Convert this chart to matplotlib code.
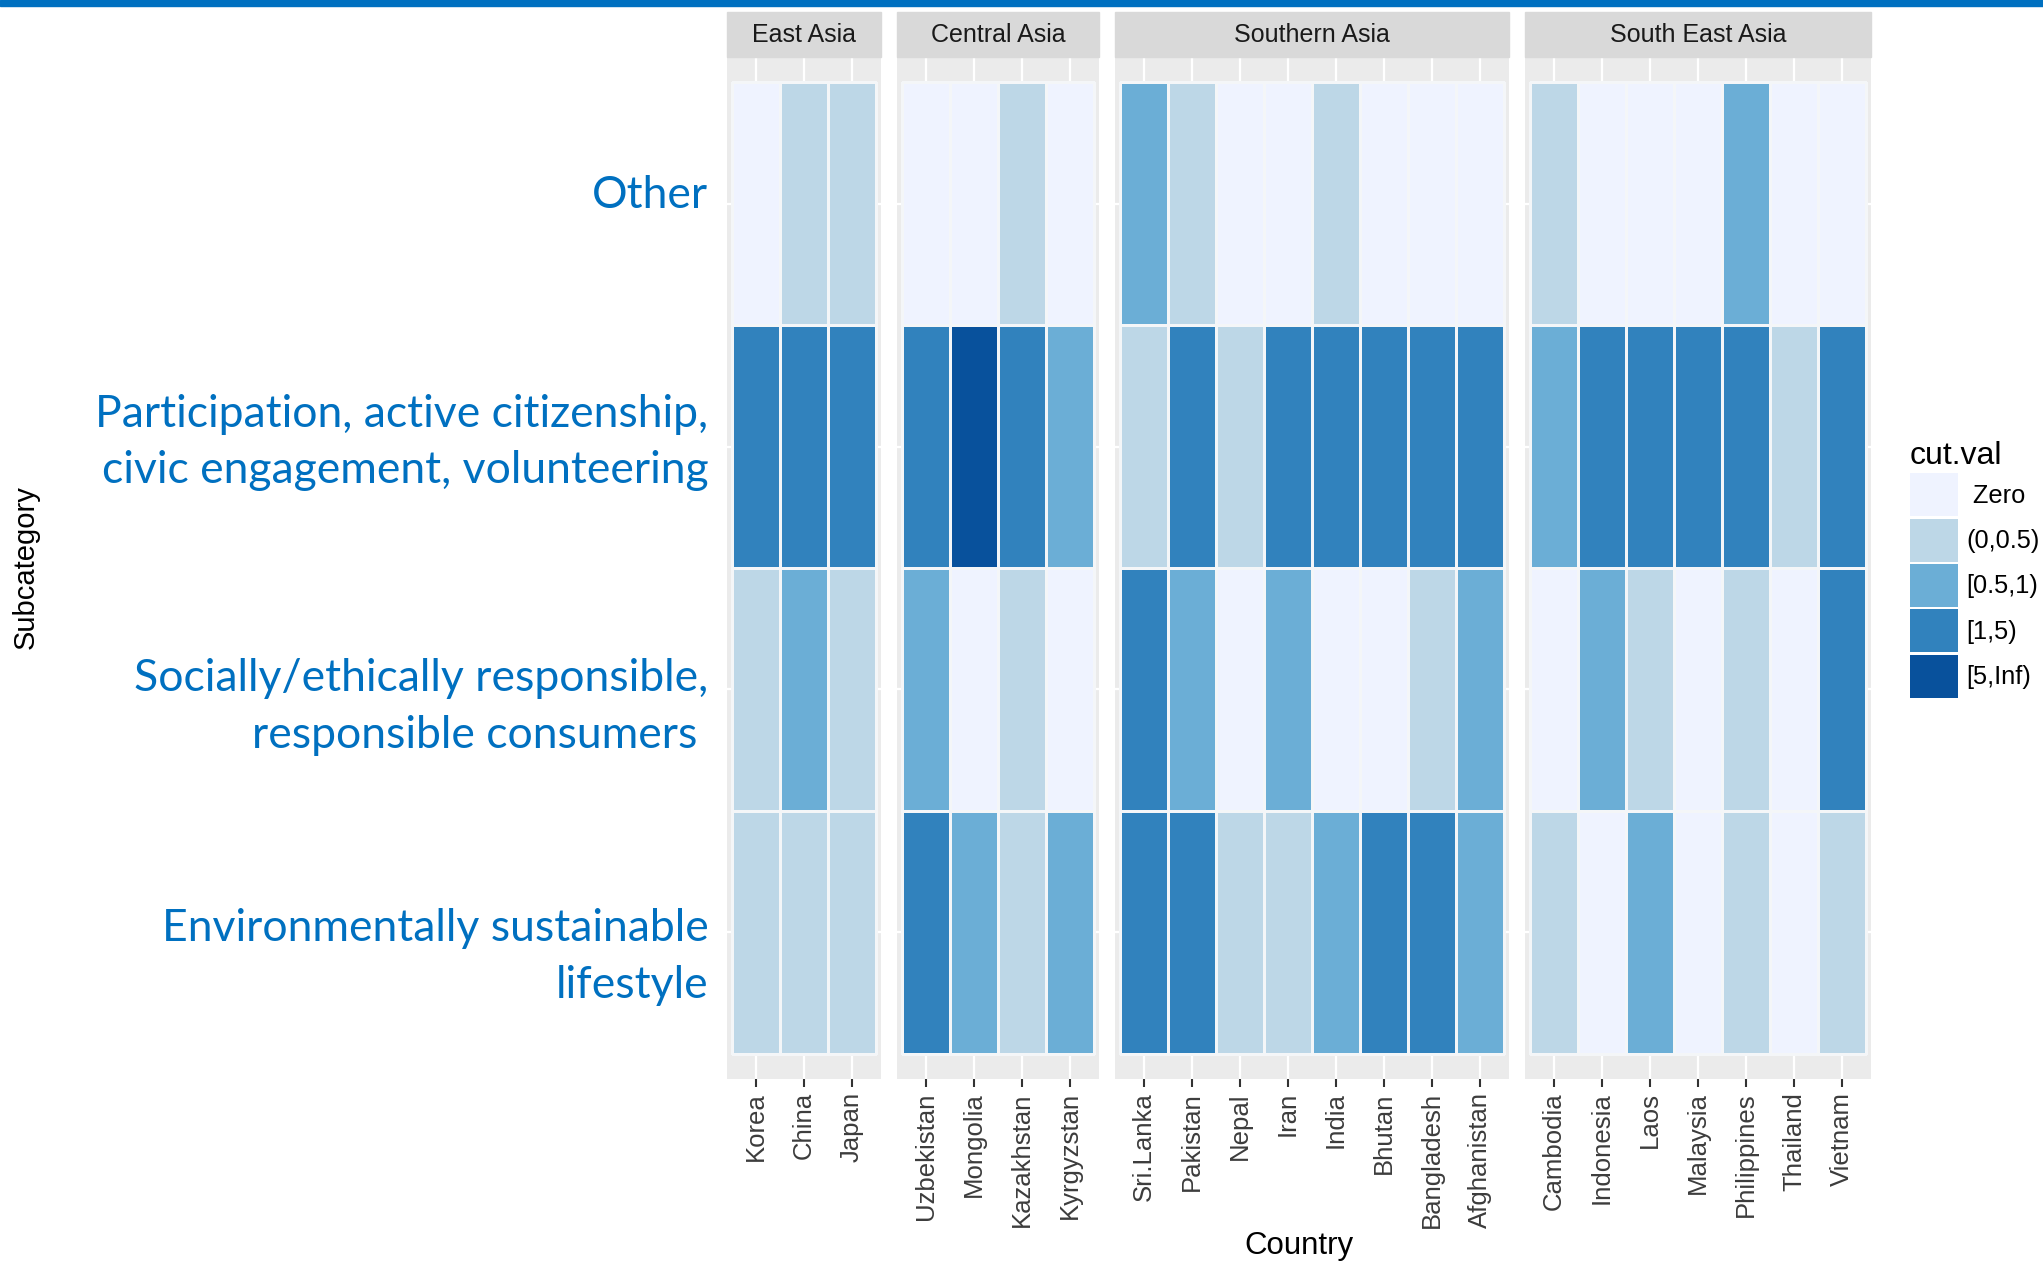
import numpy as np
import matplotlib
matplotlib.use("Agg")
import matplotlib.pyplot as plt
from matplotlib.colors import ListedColormap, BoundaryNorm
from matplotlib.patches import Rectangle, Patch
from matplotlib.transforms import ScaledTranslation

# categories of the cut value (index = level code used below)
cut_levels = [" Zero", "(0,0.5)", "[0.5,1)", "[1,5)", "[5,Inf)"]
cut_colors = ["#EFF3FF", "#BDD7E7", "#6BAED6", "#3182BD", "#08519C"]

subcategories = ["Other",
                 "Participation, active citizenship,\ncivic engagement, volunteering",
                 "Socially/ethically responsible,\nresponsible consumers ",
                 "Environmentally sustainable\nlifestyle"]

regions = ["East Asia", "Central Asia", "Southern Asia", "South East Asia"]

east_asia = ["Korea", "China", "Japan"]
central_asia = ["Uzbekistan", "Mongolia", "Kazakhstan", "Kyrgyzstan"]
southern_asia = ["Sri.Lanka", "Pakistan", "Nepal", "Iran", "India", "Bhutan",
                 "Bangladesh", "Afghanistan"]
south_east_asia = ["Cambodia", "Indonesia", "Laos", "Malaysia", "Philippines",
                   "Thailand", "Vietnam"]

# level codes, one row per subcategory (Other, Participation, Socially, Environmentally)
east_asia_val = [[0, 1, 1],
                 [3, 3, 3],
                 [1, 2, 1],
                 [1, 1, 1]]
central_asia_val = [[0, 0, 1, 0],
                    [3, 4, 3, 2],
                    [2, 0, 1, 0],
                    [3, 2, 1, 2]]
southern_asia_val = [[2, 1, 0, 0, 1, 0, 0, 0],
                     [1, 3, 1, 3, 3, 3, 3, 3],
                     [3, 2, 0, 2, 0, 0, 1, 2],
                     [3, 3, 1, 1, 2, 3, 3, 2]]
south_east_asia_val = [[1, 0, 0, 0, 2, 0, 0],
                       [2, 3, 3, 3, 3, 1, 3],
                       [0, 2, 1, 0, 1, 0, 3],
                       [1, 0, 2, 0, 1, 0, 1]]

countries = [east_asia, central_asia, southern_asia, south_east_asia]
values = [east_asia_val, central_asia_val, southern_asia_val, south_east_asia_val]

W, H = 2043, 1263
fig = plt.figure(figsize=(W / 100, H / 100), dpi=100)

cmap = ListedColormap(cut_colors)
norm = BoundaryNorm(np.arange(-0.5, 5.5, 1), cmap.N)

# banner across the top
fig.patches.append(Rectangle((0, 1 - 6 / H), 1, 6 / H, transform=fig.transFigure,
                             color="#0070C0", zorder=5))

pad = 0.104
col_w = 48
gap = 16
x0 = 727
top, bottom = 57, 1079
panel_h = bottom - top
strip_h = 45

# vertical nudges (pixels, down positive) for the subcategory labels
label_shift = [-12, -16, 6, 13]

for r in range(len(regions)):
    n = len(countries[r])
    wpx = col_w * (n + 2 * pad)
    ax = fig.add_axes([x0 / W, (H - bottom) / H, wpx / W, panel_h / H])
    x0 += wpx + gap

    z = np.array(values[r])
    ax.set_facecolor("#EBEBEB")
    ax.pcolormesh(np.arange(n + 1) - 0.5, np.arange(5) - 0.5, z, cmap=cmap, norm=norm,
                  edgecolors="#F4F6F8", linewidth=1.0, zorder=2)
    ax.set_xlim(-0.5 - pad, n - 0.5 + pad)
    ax.set_ylim(3.5 + pad, -0.5 - pad)

    ax.set_xticks(np.arange(n))
    ax.set_xticklabels(countries[r], rotation=90, fontsize=18.5, color="#3C3C3C",
                       family="Liberation Sans", va="top")
    ax.tick_params(axis="x", length=6, width=1.5, color="#333333", pad=3.5)
    ax.set_yticks(np.arange(4))
    if r == 0:
        ax.set_yticklabels(subcategories, fontsize=32, color="#0070C0", family="Lato",
                           linespacing=1.47, ha="right", multialignment="right")
        ax.tick_params(axis="y", length=0, pad=13.5)
        for lab, dy in zip(ax.get_yticklabels(), label_shift):
            lab.set_transform(lab.get_transform() +
                              ScaledTranslation(0, -dy / 100, fig.dpi_scale_trans))
    else:
        ax.set_yticklabels([])
        ax.tick_params(axis="y", length=0)
    ax.grid(True, color="white", linewidth=1.6, zorder=0)
    ax.set_axisbelow(True)
    for s in ax.spines.values():
        s.set_visible(False)

    # facet strip
    ax.add_patch(Rectangle((0, 1), 1, strip_h / panel_h, transform=ax.transAxes,
                           color="#D9D9D9", clip_on=False))
    ax.text(0.5, 1 + strip_h / 2 / panel_h, regions[r], transform=ax.transAxes,
            ha="center", va="center", fontsize=18, color="#1A1A1A",
            family="Liberation Sans")

fig.text(1299 / W, 1 - 1246 / H, "Country", ha="center", va="center",
         fontsize=22.5, family="Liberation Sans")
fig.text(26 / W, 1 - 567 / H, "Subcategory", ha="center", va="center", rotation=90,
         fontsize=21, family="Liberation Sans")

handles = [Patch(facecolor=c, edgecolor="none") for c in cut_colors]
leg = fig.legend(handles, cut_levels, title="cut.val", loc="upper left",
                 bbox_to_anchor=(1910 / W, 1 - 441 / H), frameon=False,
                 prop={"family": "Liberation Sans", "size": 18.3},
                 handlelength=1.9, handleheight=2.23, labelspacing=0.09,
                 handletextpad=0.32, borderpad=0, borderaxespad=0, alignment="left")
leg.get_title().set_fontsize(23)
leg.get_title().set_family("Liberation Sans")

fig.savefig("out.png", dpi=100)
